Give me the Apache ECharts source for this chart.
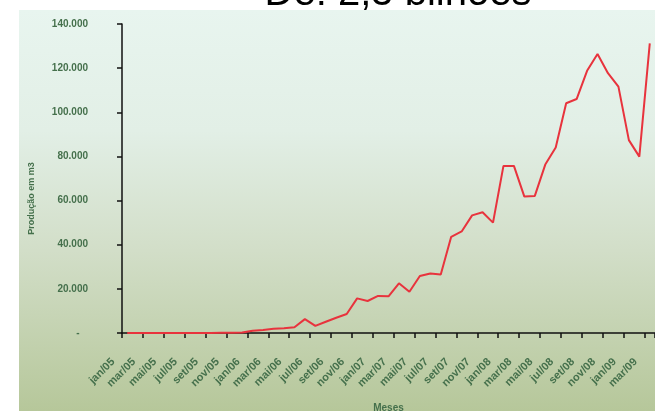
<!DOCTYPE html>
<html>
<head>
<meta charset="utf-8">
<script src="https://cdn.jsdelivr.net/npm/echarts@6/dist/echarts.min.js"></script>
<style>
html,body{margin:0;padding:0;background:#ffffff;}
#chart{width:655px;height:411px;}
</style>
</head>
<body>
<div id="chart"></div>
<script>
var titleText = 'De: 2,5 bilhões';
var yAxisName = 'Produção em m3';
var xAxisName = 'Meses';
var months = [
  'jan/05','fev/05','mar/05','abr/05','mai/05','jun/05','jul/05','ago/05','set/05','out/05','nov/05','dez/05',
  'jan/06','fev/06','mar/06','abr/06','mai/06','jun/06','jul/06','ago/06','set/06','out/06','nov/06','dez/06',
  'jan/07','fev/07','mar/07','abr/07','mai/07','jun/07','jul/07','ago/07','set/07','out/07','nov/07','dez/07',
  'jan/08','fev/08','mar/08','abr/08','mai/08','jun/08','jul/08','ago/08','set/08','out/08','nov/08','dez/08',
  'jan/09','fev/09','mar/09'
];
var production = [
  0, 0, 0, 0, 0, 0, 0, 0, 0, 100, 150, 200,
  1040, 1400, 1950, 2150, 2600, 6300, 3200, 5100, 6900, 8600, 15700, 14500,
  16800, 16600, 22500, 18700, 25800, 27000, 26500, 43600, 46000, 53300, 54700, 50000,
  75700, 75700, 61800, 62100, 76300, 84000, 104100, 106000, 118800, 126400, 117700, 111600,
  87400, 79900, 131200
];

var labelColor = '#45704c';
var chart = echarts.init(document.getElementById('chart'));
chart.setOption({
  animation: false,
  graphic: [
    {
      type: 'rect', z: -10, silent: true,
      shape: {x: 19, y: 10, width: 636, height: 401},
      style: {
        fill: new echarts.graphic.LinearGradient(0, 0, 0, 1, [
          {offset: 0, color: '#e8f5ef'},
          {offset: 0.3, color: '#e2efe6'},
          {offset: 0.6, color: '#d2dec8'},
          {offset: 1, color: '#b6c79a'}
        ])
      }
    },
    {
      type: 'text', z: 10, silent: true,
      style: {
        text: titleText, x: 398, y: 14,
        textAlign: 'center', textVerticalAlign: 'bottom',
        fontFamily: 'Liberation Sans, Arial, sans-serif', fontSize: 40, fill: '#000000'
      }
    }
  ],
  grid: {left: 122, right: 0, top: 24, height: 309, containLabel: false, outerBoundsMode: 'none'},
  xAxis: {
    type: 'category',
    data: months,
    boundaryGap: true,
    name: xAxisName,
    nameLocation: 'middle',
    nameGap: 70,
    nameTextStyle: {color: labelColor, fontWeight: 'bold', fontSize: 10, fontFamily: 'Liberation Sans, Arial, sans-serif'},
    axisLine: {lineStyle: {color: '#111111', width: 1.5}},
    axisTick: {show: true, interval: 1, length: 5, inside: false, lineStyle: {color: '#111111', width: 1.5}},
    axisLabel: {
      interval: 1, rotate: 45, margin: 13, padding: [0, 20, 0, 0],
      color: labelColor, fontWeight: 'bold', fontSize: 11,
      fontFamily: 'Liberation Sans, Arial, sans-serif'
    },
    splitLine: {show: false}
  },
  yAxis: {
    type: 'value',
    min: 0, max: 140000, interval: 20000,
    name: yAxisName,
    nameLocation: 'middle',
    nameRotate: 90,
    nameGap: 86,
    nameTextStyle: {color: labelColor, fontWeight: 'bold', fontSize: 9, fontFamily: 'Liberation Sans, Arial, sans-serif', padding: [0, 0, 0, -40]},
    axisLine: {show: true, lineStyle: {color: '#111111', width: 1.5}},
    axisTick: {show: true, length: 5, lineStyle: {color: '#111111', width: 1.5}},
    axisLabel: {
      margin: 34, color: labelColor, fontWeight: 'bold', fontSize: 10,
      fontFamily: 'Liberation Sans, Arial, sans-serif',
      formatter: function (v) {
        if (v === 0) return '-   ';
        return v.toString().replace(/\B(?=(\d{3})+(?!\d))/g, '.');
      }
    },
    splitLine: {show: false}
  },
  series: [{
    type: 'line',
    data: production,
    symbol: 'none',
    lineStyle: {color: '#e8333d', width: 2},
    itemStyle: {color: '#e8333d'}
  }]
});
</script>
</body>
</html>
